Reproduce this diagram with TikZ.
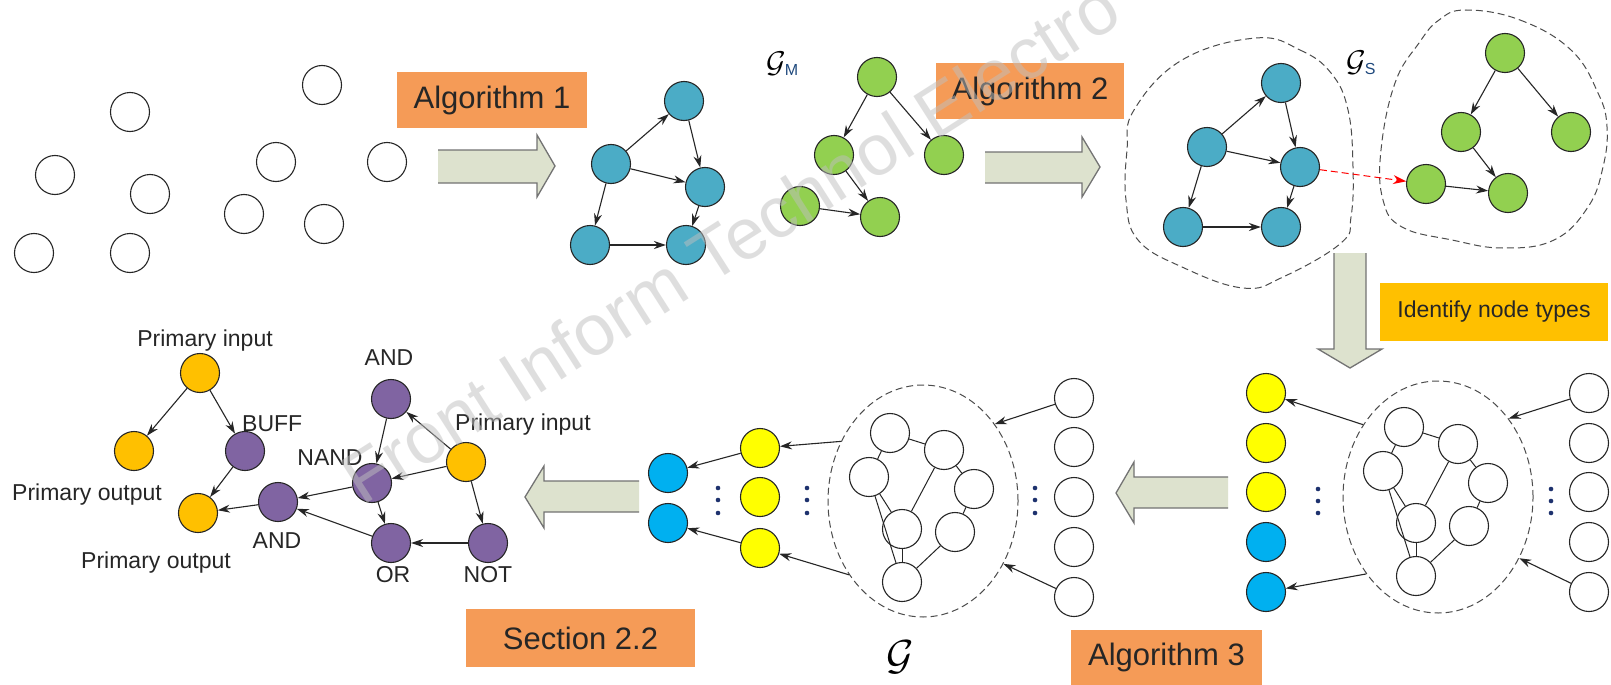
\RequirePackage{fix-cm}
\documentclass[tikz,border=0pt]{standalone}
\usepackage{fontspec}
\setmainfont{Liberation Sans}
\usetikzlibrary{arrows.meta,shapes.geometric}
\definecolor{algorange}{RGB}{245,155,87}
\definecolor{idyellow}{RGB}{255,192,0}
\definecolor{tealblue}{RGB}{75,172,198}
\definecolor{lgreen}{RGB}{146,208,80}
\definecolor{pyellow}{RGB}{255,255,0}
\definecolor{cyanblue}{RGB}{0,176,240}
\definecolor{gpurple}{RGB}{128,100,162}
\definecolor{gorange}{RGB}{255,192,0}
\definecolor{arrowfill}{RGB}{221,226,206}
\definecolor{subblue}{RGB}{31,73,125}
\definecolor{dotblue}{RGB}{30,50,110}
\begin{document}
\begin{tikzpicture}[x=1pt,y=-1pt,
  vtx/.style={circle, draw=black!85, line width=1.1pt, minimum size=39pt, inner sep=0pt},
  wv/.style={vtx, fill=white},
  bv/.style={vtx, fill=tealblue},
  gv/.style={vtx, fill=lgreen},
  yv/.style={vtx, fill=pyellow},
  cv/.style={vtx, fill=cyanblue},
  pv/.style={vtx, fill=gpurple},
  ov/.style={vtx, fill=gorange},
  edge/.style={draw=black!85, line width=1.1pt, -{Stealth[length=12pt,width=8pt]}},
  link/.style={draw=black!85, line width=1pt},
  algbox/.style={rectangle, fill=algorange, inner sep=0pt, text=black!85, font=\fontsize{31}{36}\selectfont},
  idbox/.style={rectangle, fill=idyellow, inner sep=0pt, text=black!85, font=\fontsize{23}{27}\selectfont},
  lab/.style={inner sep=0pt, text=black!85, font=\fontsize{23}{27}\selectfont, anchor=base},
  arrowbody/.style={fill=arrowfill},
  arrowedge/.style={draw=black!55, line width=1.3pt, line join=miter},
  blob/.style={draw=black!70, line width=1pt, dash pattern=on 7pt off 4pt},
  cloud/.style={ellipse, blob, inner sep=0pt, minimum width=190pt, minimum height=232pt},
  dot/.style={fill=dotblue},
  wm/.style={inner sep=0pt, text=black!25, text opacity=0.5, font=\fontsize{72}{74}\selectfont}
]
\useasboundingbox (0,0) rectangle (1611,685);
\fill[white] (0,0) rectangle (1611,685);

% ---------- top-left scattered vertices ----------
\node[wv] (c1) at (130,112) {};
\node[wv] (c2) at (55,175) {};
\node[wv] (c3) at (150,194) {};
\node[wv] (c4) at (34,253) {};
\node[wv] (c5) at (130,253) {};
\node[wv] (c6) at (322,85) {};
\node[wv] (c7) at (276,162) {};
\node[wv] (c8) at (387,162) {};
\node[wv] (c9) at (244,214) {};
\node[wv] (c10) at (324,224) {};

% ---------- boxes ----------
\node[algbox, minimum width=190pt, minimum height=56pt] (alg1) at (492,100) {Algorithm 1};
\node[algbox, minimum width=188pt, minimum height=56pt] (alg2) at (1030,91) {Algorithm 2};
\node[algbox, minimum width=229pt, minimum height=58pt] (sec) at (580.5,638) {Section 2.2};
\node[algbox, minimum width=191pt, minimum height=55pt] (alg3) at (1166.5,657.5) {Algorithm 3};
\node[idbox, minimum width=228pt, minimum height=58pt] (ident) at (1494,312) {Identify node types};

% ---------- block arrows ----------
\fill[arrowbody] (438,150) -- (537,150) -- (537,135) -- (555,166) -- (537,197) -- (537,183) -- (438,183) -- cycle;
\draw[arrowedge] (438,150) -- (537,150) -- (537,135) -- (555,166) -- (537,197) -- (537,183) -- (438,183);
\fill[arrowbody] (985,152) -- (1082,152) -- (1082,137) -- (1100,167) -- (1082,197) -- (1082,183) -- (985,183) -- cycle;
\draw[arrowedge] (985,152) -- (1082,152) -- (1082,137) -- (1100,167) -- (1082,197) -- (1082,183) -- (985,183);
\fill[arrowbody] (1334,253) -- (1334,349) -- (1318,349) -- (1350,368) -- (1382,349) -- (1366,349) -- (1366,253) -- cycle;
\draw[arrowedge] (1334,253) -- (1334,349) -- (1318,349) -- (1350,368) -- (1382,349) -- (1366,349) -- (1366,253);
\fill[arrowbody] (1228,477) -- (1134,477) -- (1134,462) -- (1116,493) -- (1134,523) -- (1134,508) -- (1228,508) -- cycle;
\draw[arrowedge] (1228,477) -- (1134,477) -- (1134,462) -- (1116,493) -- (1134,523) -- (1134,508) -- (1228,508);
\fill[arrowbody] (639,481) -- (544,481) -- (544,466) -- (525,497) -- (544,528) -- (544,512) -- (639,512) -- cycle;
\draw[arrowedge] (639,481) -- (544,481) -- (544,466) -- (525,497) -- (544,528) -- (544,512) -- (639,512);

% ---------- blue graph (top) ----------
\node[bv] (b1) at (684,101) {};
\node[bv] (b2) at (611,164) {};
\node[bv] (b3) at (705,187) {};
\node[bv] (b4) at (590,245) {};
\node[bv] (b5) at (686,245) {};
\draw[edge] (b2) -- (b1);
\draw[edge] (b1) -- (b3);
\draw[edge] (b2) -- (b3);
\draw[edge] (b2) -- (b4);
\draw[edge] (b3) -- (b5);
\draw[edge] (b4) -- (b5);

% ---------- green graph G_M ----------
\node[gv] (g1) at (877,77) {};
\node[gv] (g2) at (834,155) {};
\node[gv] (g3) at (944,155) {};
\node[gv] (g4) at (800,206) {};
\node[gv] (g5) at (880,217) {};
\draw[edge] (g1) -- (g2);
\draw[edge] (g1) -- (g3);
\draw[edge] (g2) -- (g5);
\draw[edge] (g4) -- (g5);
\node[inner sep=0pt, anchor=base west] (gm) at (766,72) {{\fontsize{30}{32}\selectfont$\mathcal{G}$}\kern-1pt\raisebox{-3pt}{\fontsize{16}{16}\selectfont\color{subblue}M}};

% ---------- G_S blobs ----------
\draw[blob] plot[smooth cycle, tension=0.7] coordinates {(1256,38) (1300,50) (1331,73) (1348,110) (1353,167) (1351,217) (1341,243) (1283,277) (1243,288) (1182,267) (1138,240) (1126,200) (1127,150) (1134,110) (1182,60)};
\draw[blob] plot[smooth cycle, tension=0.7] coordinates {(1466,10) (1520,20) (1571,50) (1598,93) (1607,127) (1603,167) (1588,207) (1554,240) (1503,248) (1452,240) (1402,227) (1383,200) (1381,150) (1395,83) (1419,43) (1439,20)};
\node[bv] (l1) at (1281,83) {};
\node[bv] (l2) at (1207,147) {};
\node[bv] (l3) at (1300,167) {};
\node[bv] (l4) at (1183,227) {};
\node[bv] (l5) at (1281,227) {};
\draw[edge] (l2) -- (l1);
\draw[edge] (l1) -- (l3);
\draw[edge] (l2) -- (l3);
\draw[edge] (l2) -- (l4);
\draw[edge] (l3) -- (l5);
\draw[edge] (l4) -- (l5);
\node[gv] (r1) at (1505,53) {};
\node[gv] (r2) at (1461,132) {};
\node[gv] (r3) at (1571,132) {};
\node[gv] (r4) at (1426,184) {};
\node[gv] (r5) at (1508,193) {};
\draw[edge] (r1) -- (r2);
\draw[edge] (r1) -- (r3);
\draw[edge] (r2) -- (r5);
\draw[edge] (r4) -- (r5);
\draw[red, line width=1pt, dash pattern=on 7pt off 4pt, -{Stealth[length=13pt,width=9pt]}] (l3) -- (r4);
\node[inner sep=0pt, anchor=base west] (gs) at (1346,71) {{\fontsize{30}{32}\selectfont$\mathcal{G}$}\kern-1pt\raisebox{-3pt}{\fontsize{16}{16}\selectfont\color{subblue}S}};

% ---------- bottom right (typed graph) ----------
\node[cloud] (ellR) at (1438,497) {};
\begin{scope}[shift={(1439,498)}, name prefix=r-]
  \node[wv] (n1) at (-35,-71) {};
  \node[wv] (n2) at (19,-54) {};
  \node[wv] (n3) at (-56,-27) {};
  \node[wv] (n4) at (49,-15) {};
  \node[wv] (n5) at (-23,25) {};
  \node[wv] (n6) at (30,28) {};
  \node[wv] (n7) at (-23,78) {};
  \draw[link] (n1) -- (n2);
  \draw[link] (n1) -- (n3);
  \draw[link] (n2) -- (n4);
  \draw[link] (n2) -- (n5);
  \draw[link] (n3) -- (n5);
  \draw[link] (n3) -- (n7);
  \draw[link] (n5) -- (n7);
  \draw[link] (n4) -- (n6);
  \draw[link] (n6) -- (n7);
\end{scope}
\node[yv] (y1) at (1266,393) {};
\node[yv] (y2) at (1266,443) {};
\node[yv] (y3) at (1266,492) {};
\node[cv] (cb1) at (1266,542) {};
\node[cv] (cb2) at (1266,592) {};
\node[wv] (w1) at (1589,393) {};
\node[wv] (w2) at (1589,443) {};
\node[wv] (w3) at (1589,492) {};
\node[wv] (w4) at (1589,542) {};
\node[wv] (w5) at (1589,592) {};
\draw[edge] (ellR.136) -- (y1);
\draw[edge] (ellR.227) -- (cb2);
\draw[edge] (w1) -- (ellR.48);
\draw[edge] (w5) -- (ellR.323);
\foreach \xx in {1318,1551} {\foreach \yy in {489,501,513} {\fill[dot] (\xx,\yy) circle (2.3pt);}}

% ---------- bottom middle (G) ----------
\node[cloud] (ellM) at (923,501) {};
\begin{scope}[shift={(925,504)}, name prefix=m-]
  \node[wv] (n1) at (-35,-71) {};
  \node[wv] (n2) at (19,-54) {};
  \node[wv] (n3) at (-56,-27) {};
  \node[wv] (n4) at (49,-15) {};
  \node[wv] (n5) at (-23,25) {};
  \node[wv] (n6) at (30,28) {};
  \node[wv] (n7) at (-23,78) {};
  \draw[link] (n1) -- (n2);
  \draw[link] (n1) -- (n3);
  \draw[link] (n2) -- (n4);
  \draw[link] (n2) -- (n5);
  \draw[link] (n3) -- (n5);
  \draw[link] (n3) -- (n7);
  \draw[link] (n5) -- (n7);
  \draw[link] (n4) -- (n6);
  \draw[link] (n6) -- (n7);
\end{scope}
\node[yv] (ym1) at (760,448) {};
\node[yv] (ym2) at (760,497) {};
\node[yv] (ym3) at (760,548) {};
\node[cv] (cm1) at (668,473) {};
\node[cv] (cm2) at (668,523) {};
\node[wv] (wm1) at (1074,398) {};
\node[wv] (wm2) at (1074,447) {};
\node[wv] (wm3) at (1074,497) {};
\node[wv] (wm4) at (1074,547) {};
\node[wv] (wm5) at (1074,597) {};
\draw[edge] (ellM.144) -- (ym1);
\draw[edge] (ellM.225) -- (ym3);
\draw[edge] (ym1) -- (cm1);
\draw[edge] (ym3) -- (cm2);
\draw[edge] (wm1) -- (ellM.47);
\draw[edge] (wm5) -- (ellM.322);
\foreach \xx in {718,807,1035} {\foreach \yy in {488,500,513} {\fill[dot] (\xx,\yy) circle (2.3pt);}}
\node[inner sep=0pt] (glab) at (900,657) {\fontsize{42}{44}\selectfont$\mathcal{G}$};

% ---------- bottom left (circuit graph) ----------
\node[ov] (pi1) at (200,373) {};
\node[ov] (po1) at (134,451) {};
\node[ov] (po2) at (198,513) {};
\node[ov] (pi2) at (466,462) {};
\node[pv] (buff) at (245,451) {};
\node[pv] (and2) at (278,502) {};
\node[pv] (nand) at (372,483) {};
\node[pv] (and1) at (391,399) {};
\node[pv] (or) at (391,543) {};
\node[pv] (not) at (488,543) {};
\draw[edge] (pi1) -- (po1);
\draw[edge] (pi1) -- (buff);
\draw[edge] (buff) -- (po2);
\draw[edge] (and2) -- (po2);
\draw[edge] (nand) -- (and2);
\draw[edge] (or) -- (and2);
\draw[edge] (pi2) -- (and1);
\draw[edge] (and1) -- (nand);
\draw[edge] (pi2) -- (nand);
\draw[edge] (nand) -- (or);
\draw[edge] (pi2) -- (not);
\draw[edge] (not) -- (or);
\node[lab] (tpi1) at (205,346) {Primary input};
\node[lab, anchor=base west] (tbuff) at (242,431) {BUFF};
\node[lab] (tpo1) at (87,500) {Primary output};
\node[lab] (tpo2) at (156,568) {Primary output};
\node[lab] (tand1) at (389,365) {AND};
\node[lab] (tnand) at (330,465) {NAND};
\node[lab, anchor=base west] (tpi2) at (455,430) {Primary input};
\node[lab] (tand2) at (277,548) {AND};
\node[lab] (tor) at (393,582) {OR};
\node[lab] (tnot) at (488,582) {NOT};

% ---------- watermark ----------
\node[wm, rotate=32.5, anchor=base west] (wmark) at (362,507) {Front Inform Technol Electro};
\end{tikzpicture}
\end{document}
